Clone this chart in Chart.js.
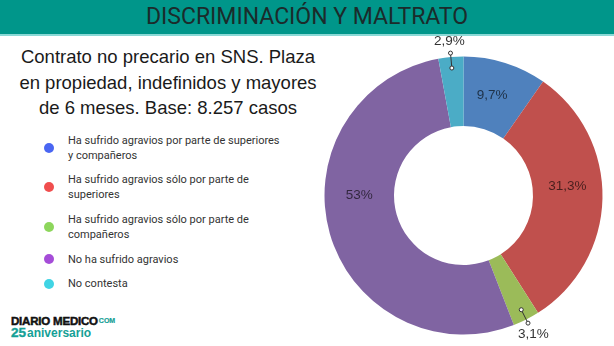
<!DOCTYPE html>
<html><head><meta charset="utf-8">
<script src="https://cdn.jsdelivr.net/npm/chart.js@4/dist/chart.umd.min.js"></script>
<style>
html,body{margin:0;padding:0;background:#fff;}
body{width:614px;height:346px;position:relative;overflow:hidden;font-family:Roboto,"Liberation Sans",sans-serif;}
#header{position:absolute;left:0;top:0;width:614px;height:34px;background:#00968a;border-bottom:2px solid #8ad9d6;}
#header span{position:absolute;left:0;width:614px;top:2.5px;text-align:center;font-size:23px;color:#1b2b2b;white-space:nowrap;}
#subtitle{position:absolute;left:8px;width:320px;top:44px;text-align:center;font-family:"Liberation Sans",Arial,sans-serif;font-size:18.5px;line-height:25.5px;color:#1a1a1a;}
#legend{position:absolute;left:68px;top:132.5px;display:flex;flex-direction:column;gap:9.7px;}
.item{position:relative;font-size:11px;line-height:15px;color:#333;white-space:nowrap;}
.dot{position:absolute;left:-24px;top:50%;margin-top:-5px;width:10px;height:10px;border-radius:50%;}
#logo{position:absolute;left:11px;top:315px;color:#15a096;font-family:"Liberation Sans",Arial,sans-serif;}
#logo .l1{font-size:11.5px;font-weight:900;color:#111;line-height:11px;white-space:nowrap;-webkit-text-stroke:0.5px #111;letter-spacing:-0.2px;}
#logo .l1 span{font-size:7px;color:#15a096;-webkit-text-stroke:0.2px #15a096;vertical-align:2px;margin-left:1px;letter-spacing:0;}
#logo .l2{font-size:12px;font-weight:bold;line-height:12px;white-space:nowrap;}
#logo .l2 .n{font-size:13.5px;font-weight:900;margin-right:1px;-webkit-text-stroke:0.4px #15a096;}
canvas{position:absolute;left:0;top:0;}
</style>
</head>
<body>
<div id="header"><span>DISCRIMINACIÓN Y MALTRATO</span></div>
<div id="subtitle"></div>
<div id="legend"></div>
<div id="logo"><div class="l1">DIARIO MEDICO<span>COM</span></div><div class="l2"><span class="n">25</span>aniversario</div></div>
<canvas id="c" width="614" height="346"></canvas>
<script>
const title = "DISCRIMINACIÓN Y MALTRATO";
const subtitleLines = ["Contrato no precario en SNS. Plaza", "en propiedad, indefinidos y mayores", "de 6 meses. Base: 8.257 casos"];
const categories = [
  ["Ha sufrido agravios por parte de superiores", "y compañeros"],
  ["Ha sufrido agravios sólo por parte de", "superiores"],
  ["Ha sufrido agravios sólo por parte de", "compañeros"],
  ["No ha sufrido agravios"],
  ["No contesta"]
];
const values = [9.7, 31.3, 3.1, 53, 2.9];
const sliceColors = ["#4f81bd", "#c0504d", "#9bbb59", "#8064a2", "#4bacc6"];
const legendColors = ["#4a66f2", "#f04e4e", "#8dd65c", "#a54dd8", "#40d4e4"];

document.getElementById('subtitle').innerHTML = subtitleLines.join('<br>');
const leg = document.getElementById('legend');
categories.forEach((lines, i) => {
  const d = document.createElement('div');
  d.className = 'item';
  d.innerHTML = '<span class="dot" style="background:' + legendColors[i] + '"></span>' + lines.join('<br>');
  leg.appendChild(d);
});

const fmt = v => String(v).replace('.', ',') + '%';

const sliceLabels = {
  id: 'sliceLabels',
  afterDatasetsDraw(chart, args, opts) {
    const ctx = chart.ctx;
    const meta = chart.getDatasetMeta(0);
    const data = chart.data.datasets[0].data;
    ctx.save();
    ctx.font = opts.font;
    ctx.textAlign = 'center';
    ctx.textBaseline = 'middle';
    meta.data.forEach((arc, i) => {
      const p = arc.getProps(['x', 'y', 'startAngle', 'endAngle', 'innerRadius', 'outerRadius'], true);
      const mid = (p.startAngle + p.endAngle) / 2;
      const txt = fmt(data[i]);
      if (data[i] < opts.outsideBelow) {
        const c = Math.cos(mid), s = Math.sin(mid);
        const r1 = p.outerRadius - 11, r2 = p.outerRadius + 4, r3 = p.outerRadius + 16;
        ctx.strokeStyle = '#333';
        ctx.lineWidth = 1;
        ctx.beginPath();
        ctx.moveTo(p.x + c * r1, p.y + s * r1);
        ctx.lineTo(p.x + c * r2, p.y + s * r2);
        ctx.stroke();
        [r1, r2].forEach(r => {
          ctx.beginPath();
          ctx.arc(p.x + c * r, p.y + s * r, 2, 0, Math.PI * 2);
          ctx.fillStyle = '#fff';
          ctx.fill();
          ctx.stroke();
        });
        ctx.fillStyle = opts.outsideColor;
        ctx.fillText(txt, p.x + c * r3, p.y + s * r3);
      } else {
        const a = opts.angles[i] != null ? opts.angles[i] * Math.PI / 180 - Math.PI / 2 : mid;
        const r = (p.innerRadius + p.outerRadius) / 2;
        ctx.fillStyle = opts.insideColor;
        ctx.fillText(txt, p.x + Math.cos(a) * r, p.y + Math.sin(a) * r);
      }
    });
    ctx.restore();
  }
};

new Chart(document.getElementById('c'), {
  type: 'doughnut',
  data: {
    labels: categories.map(l => l.join(' ')),
    datasets: [{
      data: values,
      backgroundColor: sliceColors,
      borderWidth: 0,
      hoverOffset: 0,
      offset: 0
    }]
  },
  options: {
    responsive: false,
    animation: false,
    events: [],
    cutout: '50%',
    layout: { padding: { left: 324.5, right: 11.5, top: 56.5, bottom: 11.5 } },
    plugins: {
      legend: { display: false },
      tooltip: { enabled: false },
      sliceLabels: {
        font: '13.5px "Liberation Sans", Arial, sans-serif',
        insideColor: 'rgba(0,0,0,0.62)',
        outsideColor: '#333',
        outsideBelow: 5,
        angles: [16, 85, null, 270, null]
      }
    }
  },
  plugins: [sliceLabels]
});
</script>
</body></html>
